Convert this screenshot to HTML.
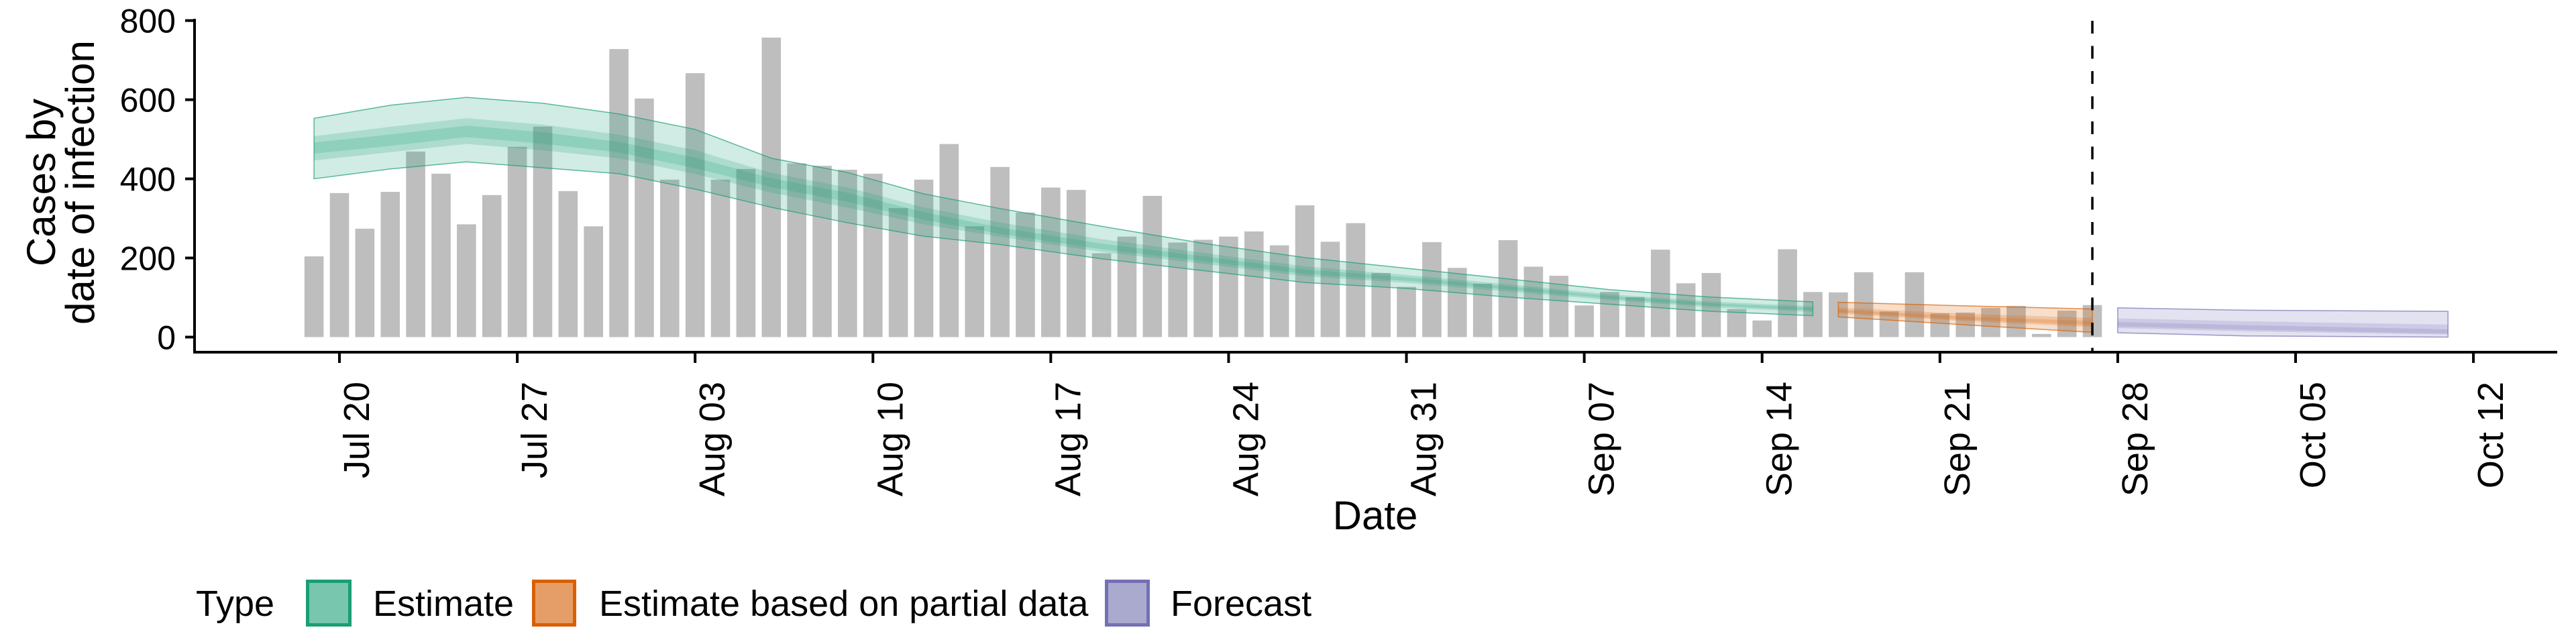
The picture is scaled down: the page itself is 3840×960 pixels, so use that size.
<!DOCTYPE html>
<html><head><meta charset="utf-8"><title>Cases by date of infection</title>
<style>
html,body{margin:0;padding:0;background:#fff;}
svg{display:block;font-family:"Liberation Sans",Arial,sans-serif;}
</style></head>
<body>
<svg id="chart" width="3840" height="960" viewBox="0 0 3840 960" xmlns="http://www.w3.org/2000/svg">
  <rect x="0" y="0" width="3840" height="960" fill="#fff"/>
  <g id="bars"></g>
  <g id="ribbons"></g>
  <g id="axes"></g>
  <g font-size="60" fill="#000" text-anchor="middle">
    <text transform="translate(82,272) rotate(-90)">Cases by</text>
    <text transform="translate(140,272) rotate(-90)">date of infection</text>
  </g>
  <text x="2050" y="789" font-size="60" text-anchor="middle">Date</text>
  <g font-size="54">
    <text x="292" y="918">Type</text>
    <g>
      <rect x="458.5" y="866.5" width="63" height="65" fill="#78c6ad" stroke="#1b9e77" stroke-width="5"/>
      <text x="556" y="918">Estimate</text>
    </g>
    <g>
      <rect x="795.5" y="866.5" width="61" height="65" fill="#e69e68" stroke="#d95f02" stroke-width="5"/>
      <text x="893" y="918">Estimate based on partial data</text>
    </g>
    <g>
      <rect x="1649.5" y="866.5" width="62" height="65" fill="#aaaace" stroke="#7570b3" stroke-width="5"/>
      <text x="1745" y="918">Forecast</text>
    </g>
  </g>
</svg>
<script>
// ---- data (day offsets relative to Jul 20) ----
const barStartDay = -1;
const barValues = [204,364,274,367,469,413,285,359,481,532,369,280,728,
603,398,667,398,425,757,439,433,423,413,326,398,488,280,430,315,378,372,212,254,357,239,246,254,267,232,333,241,288,162,127,
240,175,135,245,178,155,80,114,101,221,136,162,71,42,222,114,113,164,65,164,60,62,74,79,8,67,81];

const estDays = [-1,2,5,8,11,14,17,20,23,26,30,34,38,42,46,50,54,58];
const estMed  = [480,498,521,504,480,440,392,355,307,268,228,198,165,147,125,101,83,71];
const estHi   = [553,586,606,591,564,525,452,416,362,325,280,237,201,174,147,120,101,89];
const estLo   = [400,425,443,428,413,374,328,289,255,234,198,168,138,123,101,83,65,54];

const partDays = [59,64,69];
const partMed  = [66,47,35];
const partHi   = [88,79,71];
const partLo   = [51,31,12];

const fcDays = [70,75,83];
const fcMed  = [31,23,11];
const fcHi   = [74,68,65];
const fcLo   = [11,3,0];

const yTicks = [0,200,400,600,800];
const xTickDays = [0,7,14,21,28,35,42,49,56,63,70,77,84];
const xTickLabels = ["Jul 20","Jul 27","Aug 03","Aug 10","Aug 17","Aug 24","Aug 31","Sep 07","Sep 14","Sep 21","Sep 28","Oct 05","Oct 12"];
const cutoffDay = 69;

// ---- scales ----
const X0 = 506, DAY = 37.87;
function xs(d){ return X0 + d*DAY; }
const Y0 = 502.5, PER = 0.5898;
function ys(v){ return Y0 - v*PER; }

const NS = "http://www.w3.org/2000/svg";
function mk(tag, attrs, parent){
  const e = document.createElementNS(NS, tag);
  for (const k in attrs) e.setAttribute(k, attrs[k]);
  parent.appendChild(e);
  return e;
}

// bars
const gb = document.getElementById('bars');
barValues.forEach((v,i)=>{
  const d = barStartDay + i;
  const bw = 28.6;
  const r = mk('rect', {x: xs(d)-bw/2, y: ys(v), width: bw, height: Math.max(0, ys(0)-ys(v)), fill:'#bebebe'}, gb);
  
  
});

// ribbons
const gr = document.getElementById('ribbons');
function band(days, lo, hi, color, opacity, name, edge){
  let pts = days.map((d,i)=> xs(d)+','+ys(hi[i]));
  for (let i=days.length-1;i>=0;i--) pts.push(xs(days[i])+','+ys(lo[i]));
  const p = mk('polygon', {points: pts.join(' '), fill: color, 'fill-opacity': opacity, stroke: edge ? color : 'none', 'stroke-width': edge ? 1.5 : 0, 'stroke-opacity': 0.7}, gr);
  
  
}
function series(days, med, lo, hi, color, prefix){
  const lo50 = med.map((m,i)=> m - 0.42*(m-lo[i]));
  const hi50 = med.map((m,i)=> m + 0.38*(hi[i]-m));
  const lo20 = med.map((m,i)=> m - 0.2*(m-lo[i]));
  const hi20 = med.map((m,i)=> m + 0.16*(hi[i]-m));
  band(days, lo, hi, color, 0.2, prefix+'-ribbon-90', true);
  band(days, lo50, hi50, color, 0.2, prefix+'-ribbon-50', false);
  band(days, lo20, hi20, color, 0.2, prefix+'-ribbon-20', false);
}
series(estDays, estMed, estLo, estHi, '#1b9e77', 'estimate');
series(partDays, partMed, partLo, partHi, '#d95f02', 'partial');
series(fcDays, fcMed, fcLo, fcHi, '#7570b3', 'forecast');

// axes
const ga = document.getElementById('axes');
const yl = mk('line', {x1:290, y1:28, x2:290, y2:527, stroke:'#000', 'stroke-width':4}, ga);


const xl = mk('line', {x1:288, y1:525, x2:3812, y2:525, stroke:'#000', 'stroke-width':4}, ga);



yTicks.forEach(v=>{
  const t = mk('line', {x1:276, y1:ys(v), x2:290, y2:ys(v), stroke:'#000', 'stroke-width':4}, ga);
  
  
  const tx = mk('text', {x:262, y:ys(v)+18, 'font-size':50, 'text-anchor':'end'}, ga);
  tx.textContent = v;
  
  
});

xTickDays.forEach((d,i)=>{
  const t = mk('line', {x1:xs(d), y1:525, x2:xs(d), y2:541, stroke:'#000', 'stroke-width':4}, ga);
  
  
  const tx = mk('text', {transform:'translate('+(xs(d)+44)+',569) rotate(-90)', 'font-size':54, 'text-anchor':'end'}, ga);
  tx.textContent = xTickLabels[i];
  
  
});

const cl = mk('line', {x1:xs(cutoffDay), y1:31, x2:xs(cutoffDay), y2:525, stroke:'#000', 'stroke-width':3.5, 'stroke-dasharray':'19,18.5'}, ga);


</script>
</body></html>
